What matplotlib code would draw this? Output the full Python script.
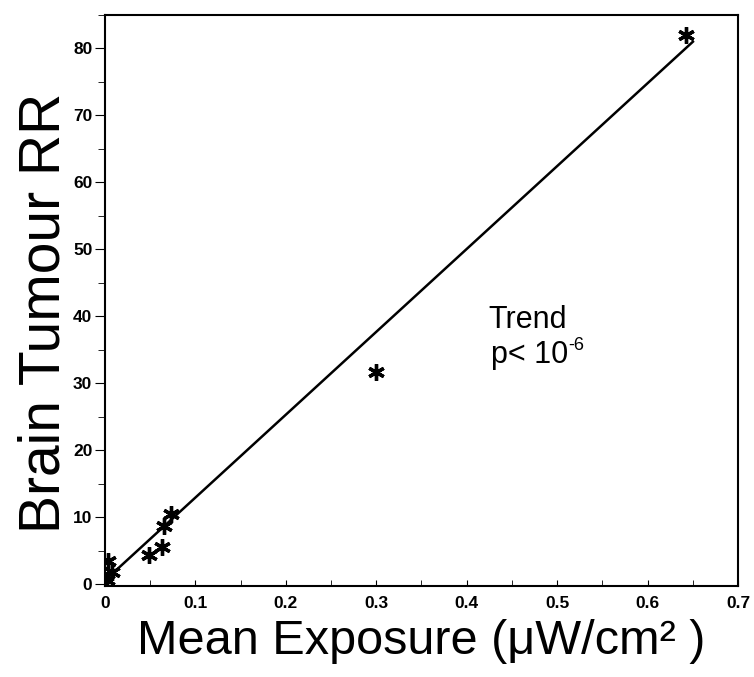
"""
Brain tumour relative risk against mean exposure, with a linear trend.
"""

import matplotlib
matplotlib.use("Agg")
import matplotlib.pyplot as plt
from matplotlib.ticker import MultipleLocator


# -------------------------------------------------
# Data
# -------------------------------------------------

exposure = [0.002, 0.004, 0.008, 0.049, 0.063, 0.065, 0.073, 0.300, 0.642]
tumour_rr = [0.6, 3.4, 1.8, 4.3, 5.6, 8.7, 10.5, 31.7, 82.0]

trend_x = [0.002, 0.65]
trend_y = [0.8, 81.0]

x_ticks = [0, 0.1, 0.2, 0.3, 0.4, 0.5, 0.6, 0.7]
x_tick_labels = ["0", "0.1", "0.2", "0.3", "0.4", "0.5", "0.6", "0.7"]
y_ticks = [0, 10, 20, 30, 40, 50, 60, 70, 80]


# -------------------------------------------------
# Figure
# -------------------------------------------------

plt.rcParams["font.family"] = ["Liberation Sans", "DejaVu Sans"]

fig = plt.figure(figsize=(7.54, 6.77), dpi=100)
ax = fig.add_axes([0.139, 0.134, 0.840, 0.844])

ax.plot(trend_x, trend_y, color="black", linewidth=1.8)

ax.plot(
    exposure,
    tumour_rr,
    linestyle="none",
    marker=(6, 2, 0),
    markersize=12,
    markeredgewidth=2.4,
    color="black"
)

ax.set_xlim(0, 0.7)
ax.set_ylim(-0.3, 85)

ax.set_xticks(x_ticks)
ax.set_xticklabels(x_tick_labels)
ax.set_yticks(y_ticks)
ax.xaxis.set_minor_locator(MultipleLocator(0.05))
ax.yaxis.set_minor_locator(MultipleLocator(5))

ax.tick_params(axis="x", which="both", direction="in", length=4,
               labelsize=12.5, pad=7)
ax.tick_params(axis="y", which="major", direction="out", length=7,
               labelsize=12.5, pad=2)
ax.tick_params(axis="y", which="minor", direction="out", length=5)

for label in ax.get_xticklabels() + ax.get_yticklabels():
    label.set_fontweight("bold")

for spine in ax.spines.values():
    spine.set_linewidth(1.5)

ax.set_xlabel("Mean Exposure (\u03bcW/cm\u00b2 )", fontsize=35, labelpad=6)
ax.set_ylabel("Brain Tumour RR", fontsize=41)
ax.yaxis.set_label_coords(-0.053, 0.478)

ax.text(0.424, 38.3, "Trend", fontsize=22)
ax.text(0.427, 33.1, "p< 10", fontsize=22)
ax.text(0.512, 35.0, "-6", fontsize=13)

plt.savefig("out.png", dpi=100)
